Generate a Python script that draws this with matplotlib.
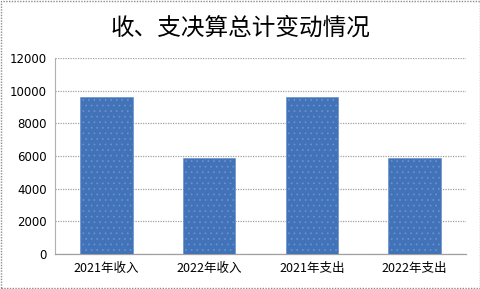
import matplotlib.pyplot as plt
from matplotlib.patches import Rectangle

plt.rcParams['font.family'] = ['Noto Sans CJK SC', 'DejaVu Sans']
plt.rcParams['hatch.color'] = '#8fb0dc'
plt.rcParams['hatch.linewidth'] = 0.5

categories = ['2021年收入', '2022年收入', '2021年支出', '2022年支出']
values = [9600, 5900, 9600, 5900]
yticks = [0, 2000, 4000, 6000, 8000, 10000, 12000]

fig = plt.figure(figsize=(4.81, 2.89), dpi=100)
ax = fig.add_axes([55 / 481, 35 / 289, 411 / 481, 196 / 289])

# chart border
fig.patches.append(Rectangle((0.002, 0.004), 0.995, 0.992, transform=fig.transFigure,
                             fill=False, edgecolor='#8c8c8c', linestyle=(0, (1, 1)),
                             linewidth=1.0))

ax.bar(range(len(values)), values, width=0.51, color='#4272b8',
       edgecolor='#6a94cc', hatch='...', linewidth=0.5, zorder=3)

ax.set_xlim(-0.5, len(values) - 0.5)
ax.set_ylim(0, 12000)
ax.set_yticks(yticks)
ax.set_yticklabels([str(v) for v in yticks], fontsize=8.5, family='DejaVu Sans')
ax.set_xticks(range(len(values)))
ax.set_xticklabels(categories, fontsize=9)
ax.tick_params(length=0, pad=6)

ax.grid(axis='y', color='#a0a0a0', linestyle=(0, (1, 1)), linewidth=0.9, zorder=0)
for side in ['top', 'right']:
    ax.spines[side].set_visible(False)
ax.spines['left'].set_color('#b0b0b0')
ax.spines['left'].set_linewidth(0.8)
ax.spines['bottom'].set_color('#a0a0a0')
ax.spines['bottom'].set_linestyle((0, (1, 1)))
ax.spines['bottom'].set_linewidth(0.9)

fig.text(0.5, 1 - 28 / 289, '收、支决算总计变动情况', ha='center', va='center',
         fontsize=17)

fig.savefig('out.png', dpi=100)
